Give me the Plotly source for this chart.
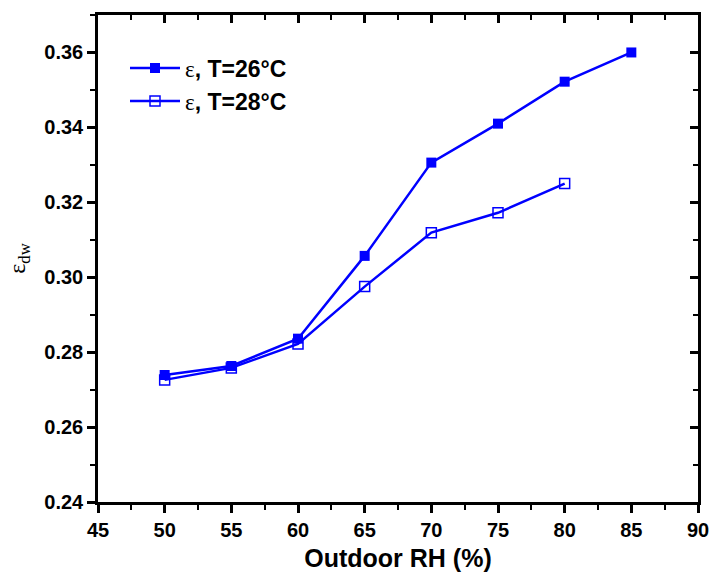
import plotly.graph_objects as go

rh = [50, 55, 60, 65, 70, 75, 80, 85]
eps_26 = [0.2739, 0.2763, 0.2836, 0.3057, 0.3306, 0.3410, 0.3522, 0.3600]
rh_28 = [50, 55, 60, 65, 70, 75, 80]
eps_28 = [0.2726, 0.2758, 0.2822, 0.2975, 0.3119, 0.3172, 0.3250]
x_ticks = [45, 50, 55, 60, 65, 70, 75, 80, 85, 90]
y_ticks = [0.24, 0.26, 0.28, 0.30, 0.32, 0.34, 0.36]
y_ticktext = ["0.24", "0.26", "0.28", "0.30", "0.32", "0.34", "0.36"]

blue = "#0000FF"
eps = "<span style='font-family:Liberation Serif;font-weight:normal'>ε</span>"

fig = go.Figure()
fig.add_trace(go.Scatter(x=rh, y=eps_26, mode="lines+markers",
                         name=eps + ", T=26°C",
                         line=dict(color=blue, width=2.5),
                         marker=dict(symbol="square", size=10, color=blue)))
fig.add_trace(go.Scatter(x=rh_28, y=eps_28, mode="lines+markers",
                         name=eps + ", T=28°C",
                         line=dict(color=blue, width=2.5),
                         marker=dict(symbol="square-open", size=10, color=blue,
                                     line=dict(width=1.5))))

xr = [45, 90]
yr = [0.24, 0.37]

fig.update_layout(
    width=713, height=580,
    margin=dict(l=98, r=15, t=15, b=78, autoexpand=False),
    paper_bgcolor="white", plot_bgcolor="white",
    font=dict(family="Liberation Sans", color="black"),
    showlegend=True,
    legend=dict(x=0.045, y=0.935, xanchor="left", yanchor="top",
                bgcolor="rgba(0,0,0,0)",
                font=dict(family="Liberation Sans", size=23, color="black", weight="bold"),
                itemwidth=50, tracegroupgap=0),
    xaxis=dict(range=xr, tickvals=x_ticks, automargin=False,
               ticks="outside", ticklen=8, tickwidth=2.5, tickcolor="black",
               minor=dict(dtick=2.5, ticks="outside", ticklen=5, tickwidth=2, tickcolor="black"),
               showline=True, linewidth=2.5, linecolor="black", mirror=True,
               showgrid=False, zeroline=False,
               tickfont=dict(size=20, family="Liberation Sans", weight="bold"),
               title=dict(text="Outdoor RH (%)", standoff=10,
                          font=dict(size=25, family="Liberation Sans", weight="bold"))),
    yaxis=dict(range=yr, tickvals=y_ticks, ticktext=y_ticktext, automargin=False,
               ticks="outside", ticklen=8, tickwidth=2.5, tickcolor="black",
               minor=dict(dtick=0.01, ticks="outside", ticklen=5, tickwidth=2, tickcolor="black"),
               showline=True, linewidth=2.5, linecolor="black", mirror=True,
               showgrid=False, zeroline=False,
               tickfont=dict(size=20, family="Liberation Sans", weight="bold"),
               title=dict(text="ε<sub>dw</sub>", standoff=12,
                          font=dict(size=24, family="Liberation Serif"))),
    xaxis2=dict(range=xr, overlaying="x", side="top", anchor="y", automargin=False,
                tickvals=x_ticks,
                ticks="inside", ticklen=8, tickwidth=2.5, tickcolor="black",
                minor=dict(dtick=2.5, ticks="inside", ticklen=5, tickwidth=2, tickcolor="black"),
                showticklabels=False, showgrid=False, zeroline=False,
                showline=True, linewidth=2.5, linecolor="black"),
    yaxis2=dict(range=yr, overlaying="y", side="right", anchor="x", automargin=False,
                tickvals=y_ticks,
                ticks="inside", ticklen=8, tickwidth=2.5, tickcolor="black",
                minor=dict(dtick=0.01, ticks="inside", ticklen=5, tickwidth=2, tickcolor="black"),
                showticklabels=False, showgrid=False, zeroline=False,
                showline=True, linewidth=2.5, linecolor="black"),
)
fig.add_trace(go.Scatter(x=[None], y=[None], xaxis="x2", yaxis="y2",
                         showlegend=False, hoverinfo="skip"))

fig.write_html("out.html", config={"displayModeBar": False},
               post_script="document.body.style.margin='0';")
